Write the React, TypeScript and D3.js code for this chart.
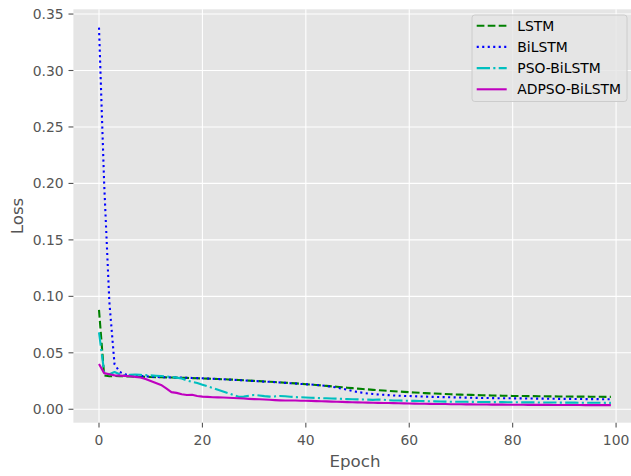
import React from 'react';
import * as d3 from 'd3';

// Loss per epoch (0..99)
const lstm = [
  0.088, 0.030, 0.0292, 0.0295, 0.0293, 0.0291, 0.0290, 0.0289, 0.0288, 0.0287,
  0.0286, 0.0284, 0.0283, 0.0282, 0.0281, 0.0280, 0.0279, 0.0278, 0.0276, 0.0275,
  0.0273, 0.0271, 0.0270, 0.0268, 0.0266, 0.0264, 0.0262, 0.0259, 0.0257, 0.0254,
  0.0251, 0.0249, 0.0246, 0.0244, 0.0241, 0.0238, 0.0235, 0.0232, 0.0229, 0.0226,
  0.0222, 0.0219, 0.0215, 0.0211, 0.0207, 0.0203, 0.0199, 0.0195, 0.0191, 0.0187,
  0.0183, 0.0179, 0.0176, 0.0172, 0.0169, 0.0166, 0.0163, 0.0160, 0.0157, 0.0154,
  0.0151, 0.0148, 0.0146, 0.0143, 0.0141, 0.0139, 0.0137, 0.0135, 0.0133, 0.0131,
  0.0130, 0.0128, 0.0127, 0.0126, 0.0124, 0.0123, 0.0122, 0.0121, 0.0120, 0.0119,
  0.0118, 0.0118, 0.0117, 0.0116, 0.0116, 0.0115, 0.0115, 0.0114, 0.0114, 0.0113,
  0.0113, 0.0113, 0.0112, 0.0112, 0.0112, 0.0111, 0.0111, 0.0111, 0.0110, 0.0110,
];

const bilstm = [
  0.338, 0.200, 0.095, 0.040, 0.033, 0.031, 0.030, 0.0298, 0.0295, 0.0292,
  0.0288, 0.0286, 0.0284, 0.0283, 0.0282, 0.0281, 0.0280, 0.0279, 0.0277, 0.0276,
  0.0274, 0.0272, 0.0270, 0.0268, 0.0266, 0.0263, 0.0261, 0.0258, 0.0256, 0.0253,
  0.0250, 0.0248, 0.0245, 0.0243, 0.0240, 0.0237, 0.0234, 0.0231, 0.0228, 0.0224,
  0.0222, 0.0219, 0.0215, 0.0211, 0.0206, 0.0200, 0.0192, 0.0183, 0.0172, 0.0162,
  0.0153, 0.0146, 0.0140, 0.0135, 0.0131, 0.0128, 0.0125, 0.0122, 0.0120, 0.0118,
  0.0117, 0.0115, 0.0113, 0.0112, 0.0110, 0.0109, 0.0108, 0.0107, 0.0106, 0.0105,
  0.0104, 0.0103, 0.0102, 0.0101, 0.0100, 0.0100, 0.0099, 0.0098, 0.0098, 0.0097,
  0.0097, 0.0096, 0.0096, 0.0095, 0.0095, 0.0094, 0.0094, 0.0093, 0.0093, 0.0092,
  0.0092, 0.0092, 0.0091, 0.0091, 0.0090, 0.0090, 0.0090, 0.0089, 0.0089, 0.0088,
];

const psoBilstm = [
  0.068, 0.033, 0.031, 0.033, 0.031, 0.030, 0.0305, 0.0308, 0.0305, 0.0302,
  0.0300, 0.0297, 0.0294, 0.0290, 0.0286, 0.0280, 0.0272, 0.0255, 0.0242, 0.0232,
  0.0218, 0.0203, 0.0188, 0.0172, 0.0157, 0.0142, 0.0126, 0.0110, 0.0112, 0.0120,
  0.0127, 0.0122, 0.0116, 0.0112, 0.0114, 0.0118, 0.0115, 0.0111, 0.0108, 0.0106,
  0.0104, 0.0102, 0.0100, 0.0098, 0.0097, 0.0095, 0.0094, 0.0092, 0.0090, 0.0089,
  0.0088, 0.0087, 0.0085, 0.0083, 0.0086, 0.0084, 0.0080, 0.0078, 0.0077, 0.0076,
  0.0075, 0.0074, 0.0073, 0.0072, 0.0071, 0.0070, 0.0069, 0.0068, 0.0067, 0.0067,
  0.0066, 0.0066, 0.0065, 0.0065, 0.0064, 0.0064, 0.0063, 0.0063, 0.0063, 0.0062,
  0.0062, 0.0062, 0.0061, 0.0061, 0.0061, 0.0060, 0.0060, 0.0060, 0.0060, 0.0059,
  0.0059, 0.0059, 0.0059, 0.0058, 0.0058, 0.0058, 0.0058, 0.0058, 0.0057, 0.0057,
];

const adpsoBilstm = [
  0.040, 0.032, 0.031, 0.030, 0.0298, 0.0296, 0.0292, 0.0287, 0.0281, 0.0268,
  0.0250, 0.0232, 0.0215, 0.0185, 0.0152, 0.0145, 0.0133, 0.0126, 0.0128, 0.0118,
  0.0112, 0.0110, 0.0107, 0.0105, 0.0104, 0.0102, 0.0100, 0.0098, 0.0095, 0.0092,
  0.0090, 0.0089, 0.0087, 0.0084, 0.0081, 0.0079, 0.0078, 0.0078, 0.0077, 0.0076,
  0.0075, 0.0074, 0.0072, 0.0071, 0.0070, 0.0068, 0.0067, 0.0065, 0.0063, 0.0062,
  0.0061, 0.0060, 0.0059, 0.0058, 0.0057, 0.0056, 0.0055, 0.0054, 0.0053, 0.0052,
  0.0051, 0.0050, 0.0049, 0.0049, 0.0048, 0.0047, 0.0046, 0.0046, 0.0045, 0.0044,
  0.0044, 0.0043, 0.0043, 0.0042, 0.0042, 0.0042, 0.0041, 0.0041, 0.0041, 0.0040,
  0.0040, 0.0040, 0.0040, 0.0039, 0.0039, 0.0039, 0.0039, 0.0039, 0.0038, 0.0038,
  0.0038, 0.0038, 0.0038, 0.0038, 0.0037, 0.0037, 0.0037, 0.0037, 0.0037, 0.0037,
];

const xTicks = [0, 20, 40, 60, 80, 100];
const yTicks = [0, 0.05, 0.1, 0.15, 0.2, 0.25, 0.3, 0.35];

const seriesNames = ['LSTM', 'BiLSTM', 'PSO-BiLSTM', 'ADPSO-BiLSTM'];
const seriesData = [lstm, bilstm, psoBilstm, adpsoBilstm];
const seriesColors = ['#008000', '#0000ff', '#00bfbf', '#bf00bf'];
const seriesDash = ['7.7,3.3', '2.1,3.4', '13.3,3.3,2.1,3.3', null];

const W = 631;
const H = 476;
const FONT = 'DejaVu Sans, sans-serif';

export default function App() {
  const left = 73.4, right = 636.5, top = 9.3, bottom = 422.7;

  const x = d3.scaleLinear().domain([-4.95, 103.95]).range([left, right]);
  const y = d3.scaleLinear().domain([-0.0119, 0.3542]).range([bottom, top]);

  const line = d3.line<number>()
    .x((_, i) => x(i))
    .y(d => y(d));

  // legend placement
  const lg = { x: 472, y: 15, w: 155, h: 86.5 };
  const rowY = (i: number) => 25.7 + i * 21.2;

  return (
    <div style={{ position: 'absolute', left: 0, top: 0 }}>
      <svg width={W} height={H} style={{ display: 'block', background: '#fff' }} fontFamily={FONT}>
        <defs>
          <clipPath id="plot">
            <rect x={left} y={top} width={right - left} height={bottom - top} />
          </clipPath>
        </defs>
        <rect x={left} y={top} width={right - left} height={bottom - top} fill="#e5e5e5" />

        {/* grid */}
        {xTicks.map(t => (
          <line key={'gx' + t} x1={x(t)} x2={x(t)} y1={top} y2={bottom} stroke="#fff" strokeWidth={1.1} />
        ))}
        {yTicks.map(t => (
          <line key={'gy' + t} x1={left} x2={right} y1={y(t)} y2={y(t)} stroke="#fff" strokeWidth={1.1} />
        ))}

        {/* series */}
        <g clipPath="url(#plot)">
          {seriesData.map((d, i) => (
            <path key={seriesNames[i]} d={line(d) || ''} fill="none" stroke={seriesColors[i]}
              strokeWidth={2.1} strokeDasharray={seriesDash[i] || undefined}
              strokeLinejoin="round" />
          ))}
        </g>

        {/* x axis ticks */}
        {xTicks.map(t => (
          <g key={'xt' + t}>
            <line x1={x(t)} x2={x(t)} y1={bottom} y2={bottom + 4.9} stroke="#555" strokeWidth={1.1} />
            <text x={x(t)} y={445} textAnchor="middle" fontSize={13.9} fill="#555">{t}</text>
          </g>
        ))}
        {/* y axis ticks */}
        {yTicks.map(t => (
          <g key={'yt' + t}>
            <line x1={left - 4.9} x2={left} y1={y(t)} y2={y(t)} stroke="#555" strokeWidth={1.1} />
            <text x={63.6} y={y(t) + 5} textAnchor="end" fontSize={13.9} fill="#555">{d3.format('.2f')(t)}</text>
          </g>
        ))}

        <text x={(left + right) / 2} y={467} textAnchor="middle" fontSize={16.7} fill="#555">Epoch</text>
        <text transform={`translate(23.3,${(top + bottom) / 2}) rotate(-90)`} textAnchor="middle" fontSize={16.7} fill="#555">Loss</text>

        {/* legend */}
        <rect x={lg.x} y={lg.y} width={lg.w} height={lg.h} rx={2.8} fill="#e5e5e5" fillOpacity={0.8} stroke="#ccc" strokeWidth={1} />
        {seriesNames.map((n, i) => (
          <g key={'lg' + n}>
            <line x1={476.7} x2={506.7} y1={rowY(i)} y2={rowY(i)} stroke={seriesColors[i]} strokeWidth={2.1}
              strokeDasharray={seriesDash[i] || undefined} />
            <text x={517.3} y={rowY(i) + 5} fontSize={13.9} fill="#000">{n}</text>
          </g>
        ))}
      </svg>
    </div>
  );
}
